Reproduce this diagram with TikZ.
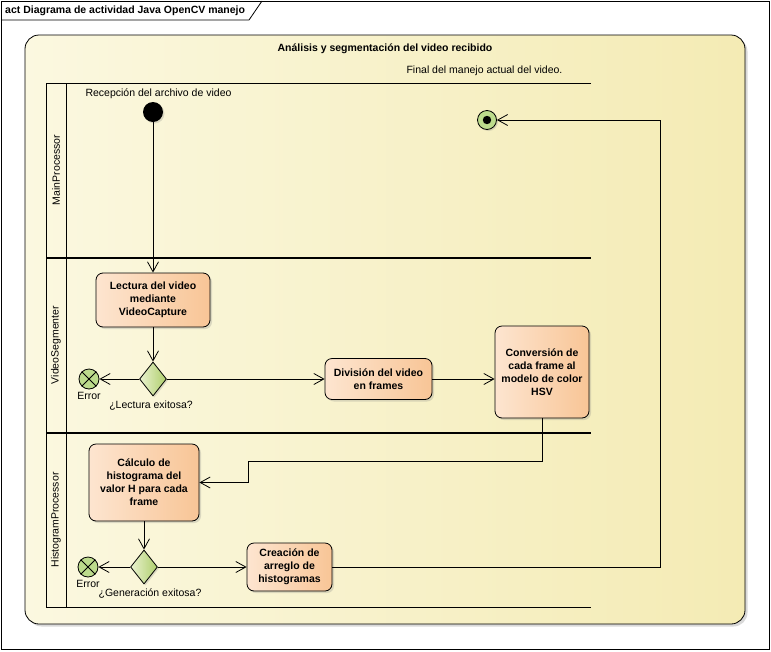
\documentclass[tikz,border=0pt]{standalone}
\usepackage{fontspec}
\setmainfont{Liberation Sans}
\usepackage{xcolor}
\usetikzlibrary{positioning,fit,calc}
\usetikzlibrary{shapes.geometric,arrows.meta,shadows}

\definecolor{regionL}{HTML}{FBF8E0}
\definecolor{regionR}{HTML}{F4EBB4}
\definecolor{actL}{HTML}{FDE5D0}
\definecolor{actR}{HTML}{F8C596}
\definecolor{decL}{HTML}{EAF2CF}
\definecolor{decR}{HTML}{AECE6C}
\definecolor{endG}{HTML}{BCDB8C}

\begin{document}
\begin{tikzpicture}[x=1pt,y=-1pt,
font=\fontsize{10.5}{13}\selectfont,
every node/.style = {inner sep=1pt},
action/.style = {shape=rectangle,
	rounded corners=7pt,
	draw=black, line width=0.8pt,
	left color=actL, right color=actR,
	align=center,
	font=\fontsize{10.5}{13}\selectfont\bfseries,
	drop shadow={shadow xshift=2pt,shadow yshift=-2pt,opacity=0.25}
	},
decision/.style = {shape=diamond, draw=black, line width=0.8pt,
	inner sep=0pt, minimum width=27pt, minimum height=34pt,
	left color=decL, right color=decR,
	drop shadow={shadow xshift=1.5pt,shadow yshift=-1.5pt,opacity=0.25}},
errend/.style = {shape=circle, draw=black, line width=0.8pt,
	fill=endG, inner sep=0pt, minimum size=20pt},
flow/.style = {draw=black, line width=0.8pt,
	-{Straight Barb[length=10pt,width=11pt]}},
lanesep/.style = {draw=black, line width=1.6pt}
]
\useasboundingbox (0,0) rectangle (771,651);
% frame and its tab
\draw[line width=0.8pt] (1,1) rectangle (769,649);
\draw[line width=0.8pt] (1,20) -- (249,20) -- (262,1);
\node[anchor=west,font=\fontsize{10.5}{13}\selectfont\bfseries] (frame)
	at (4,10.5) {act Diagrama de actividad Java OpenCV manejo};

% structured activity
\node[rounded corners=14pt, draw=black, line width=0.8pt,
	left color=regionL, right color=regionR,
	minimum width=720pt, minimum height=589pt,
	drop shadow={shadow xshift=2.5pt,shadow yshift=-2.5pt,opacity=0.3}]
	(region) at (385,329.5) {};
\node[font=\fontsize{10.5}{13}\selectfont\bfseries] (regtitle) at (385,49)
	{Análisis y segmentación del video recibido};
\node (fintext) at (484.5,71) {Final del manejo actual del video.};

% swimlanes
\draw[line width=0.8pt] (591,83) -- (46,83) -- (46,607) -- (591,607);
\draw[line width=0.8pt] (66,83) -- (66,607);
\draw[lanesep] (46,258) -- (591,258);
\draw[lanesep] (46,433) -- (591,433);
\node[rotate=90] (lmain) at (56,170) {MainProcessor};
\node[rotate=90] (lseg) at (56,345) {VideoSegmenter};
\node[rotate=90] (lhist) at (56,520) {HistogramProcessor};

% MainProcessor
\node[circle, fill=black, inner sep=0pt, minimum size=20pt,
	drop shadow={shadow xshift=1.5pt,shadow yshift=-1.5pt,opacity=0.25}]
	(init) at (153,112) {};
\node (inittext) at (158.5,94) {Recepción del archivo de video};
\node[circle, draw=black, line width=0.8pt, fill=endG, inner sep=0pt,
	minimum size=19pt,
	drop shadow={shadow xshift=1.5pt,shadow yshift=-1.5pt,opacity=0.25}]
	(fin) at (487,120) {};
\fill[black] (fin.center) circle (4.2pt);

% VideoSegmenter
\node[action, minimum width=114pt, minimum height=54pt] (lect) at (153,300)
	{Lectura del video\\ mediante\\ VideoCapture};
\node[decision] (dec1) at (153,379) {};
\node (dec1text) at (151,405.5) {¿Lectura exitosa?};
\node[errend] (err1) at (89,379) {};
\draw[line width=0.8pt] (err1.north east) -- (err1.south west)
	(err1.north west) -- (err1.south east);
\node (err1text) at (89,396) {Error};
\node[action, minimum width=107pt, minimum height=41pt] (div) at (378.5,379)
	{División del video\\ en frames};
\node[action, minimum width=94pt, minimum height=92pt] (conv) at (542,372)
	{Conversión de\\ cada frame al\\ modelo de color\\ HSV};

% HistogramProcessor
\node[action, minimum width=110pt, minimum height=77pt] (calc) at (144,482.5)
	{Cálculo de\\ histograma del\\ valor H para cada\\ frame};
\node[decision] (dec2) at (144,567) {};
\node (dec2text) at (150,594) {¿Generación exitosa?};
\node[errend] (err2) at (88,567) {};
\draw[line width=0.8pt] (err2.north east) -- (err2.south west)
	(err2.north west) -- (err2.south east);
\node (err2text) at (88,584) {Error};
\node[action, minimum width=85pt, minimum height=48pt] (crea) at (289.5,567)
	{Creación de\\ arreglo de\\ histogramas};

% flows
\coordinate (k1) at (248,461);
\coordinate (k2) at (660,120);
\draw[flow] (init) -- (lect);
\draw[flow] (lect) -- (dec1);
\draw[flow] (dec1) -- (err1);
\draw[flow] (dec1) -- (div);
\draw[flow] (div.east) -- (div.east -| conv.west);
\draw[flow] (conv.south) -- (conv.south |- k1) -- (k1) |- (calc.east);
\draw[flow] (calc) -- (dec2);
\draw[flow] (dec2) -- (err2);
\draw[flow] (dec2) -- (crea);
\draw[flow] (crea.east) -| (k2) -- (fin);
\end{tikzpicture}
\end{document}
